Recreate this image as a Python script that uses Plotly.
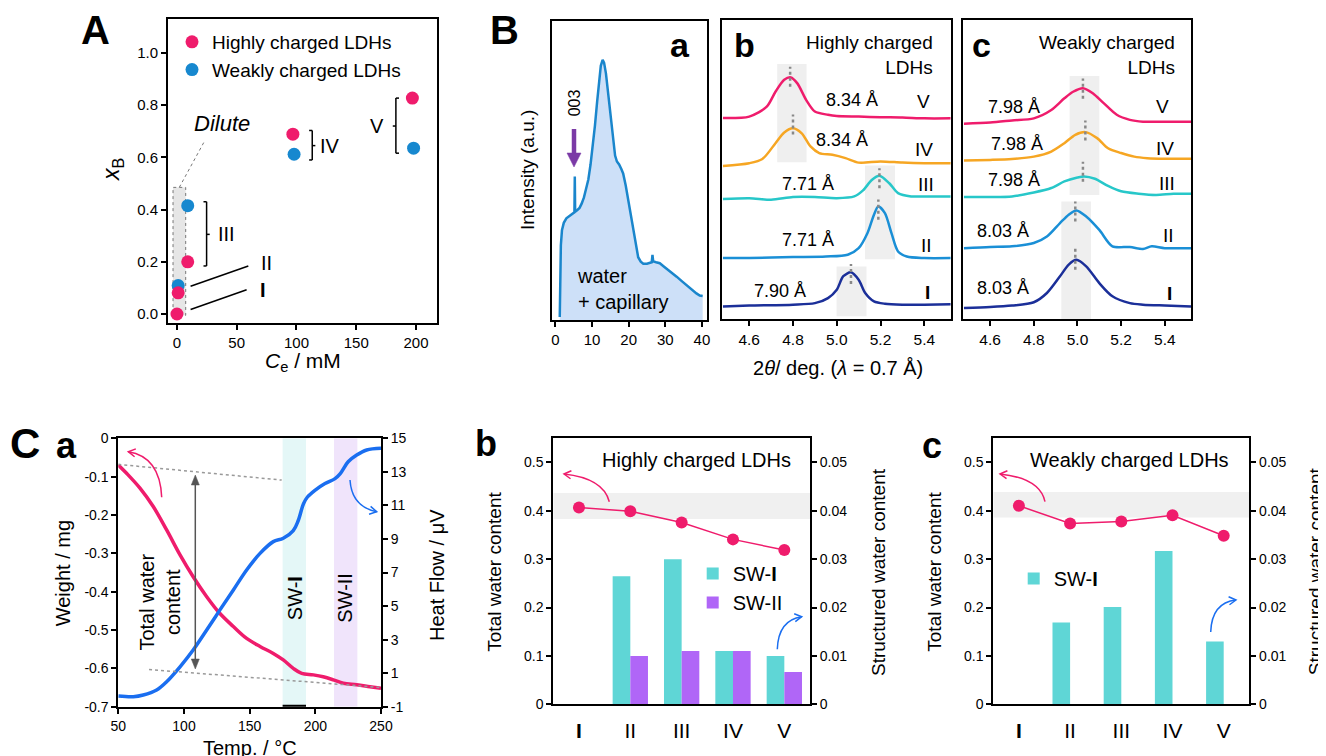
import plotly.graph_objects as go

# reference canvas and page offset (the page body has an 8 px margin)
W, H = 1326, 756
OFF = 8
FW, FH = W - OFF, H - OFF
FONT = "Liberation Sans, Arial, Helvetica, sans-serif"

# ---------------- data ----------------
# Panel A : x_B vs C_e
A_high_ce = [0, 1, 9, 97, 197]
A_high_xb = [0.0, 0.081, 0.200, 0.689, 0.827]
A_weak_ce = [1, 9, 98, 198]
A_weak_xb = [0.109, 0.415, 0.612, 0.635]
A_xticks = [0, 50, 100, 150, 200]
A_yticks = [0.0, 0.2, 0.4, 0.6, 0.8, 1.0]

# Panel B-a : wide-angle pattern (water + capillary)
Ba_2theta = [1.2, 1.35, 1.5, 1.8, 2.3, 3.0, 4.0, 4.8, 5.2, 5.3, 5.4, 6.0, 6.6, 7.2, 7.8, 8.4,
             9.0, 9.6, 10.2, 10.8, 11.4, 11.9, 12.4, 12.9, 13.3, 13.8, 14.3, 14.9, 15.6, 16.3,
             16.8, 17.4, 18.0, 18.5, 19.2, 19.9, 20.6, 21.3, 22.0, 22.6, 23.3, 24.0, 25.0,
             26.3, 26.5, 26.7, 27.5, 28.5, 29.5, 30.4, 31.8, 33.1, 34.5, 35.8, 37.2, 38.5,
             39.4, 40.2]
Ba_int = [0.01, 0.15, 0.25, 0.30, 0.325, 0.34, 0.348, 0.355, 0.36, 0.48, 0.362, 0.368, 0.375,
          0.39, 0.41, 0.44, 0.47, 0.52, 0.58, 0.65, 0.73, 0.80, 0.85, 0.87, 0.86, 0.825, 0.77,
          0.70, 0.62, 0.55, 0.53, 0.52, 0.505, 0.49, 0.45, 0.40, 0.34, 0.29, 0.245, 0.21,
          0.195, 0.188, 0.188, 0.193, 0.218, 0.196, 0.193, 0.19, 0.18, 0.172, 0.158, 0.145,
          0.13, 0.117, 0.10, 0.089, 0.082, 0.08]
Ba_xticks = [0, 10, 20, 30, 40]

# Panel B-b : highly charged LDHs (normalised, stacked)
Bb_V_x = [4.48, 4.6, 4.68, 4.72, 4.76, 4.79, 4.82, 4.86, 4.9, 4.96, 5.0, 5.1, 5.2, 5.3, 5.4, 5.52]
Bb_V_y = [0.672, 0.677, 0.71, 0.76, 0.80, 0.808, 0.788, 0.733, 0.694, 0.683, 0.679, 0.677, 0.675, 0.674, 0.671, 0.671]
Bb_IV_x = [4.48, 4.6, 4.66, 4.72, 4.76, 4.8, 4.84, 4.88, 4.92, 4.98, 5.04, 5.1, 5.2, 5.3, 5.4, 5.52]
Bb_IV_y = [0.512, 0.521, 0.535, 0.588, 0.624, 0.638, 0.621, 0.577, 0.555, 0.549, 0.538, 0.523, 0.527, 0.523, 0.521, 0.521]
Bb_III_x = [4.48, 4.6, 4.7, 4.8, 4.9, 5.0, 5.08, 5.12, 5.16, 5.195, 5.24, 5.28, 5.34, 5.4, 5.52]
Bb_III_y = [0.401, 0.404, 0.399, 0.408, 0.408, 0.404, 0.41, 0.43, 0.465, 0.479, 0.454, 0.421, 0.41, 0.41, 0.41]
Bb_II_x = [4.48, 4.6, 4.8, 4.95, 5.05, 5.1, 5.14, 5.17, 5.19, 5.22, 5.25, 5.28, 5.32, 5.4, 5.52]
Bb_II_y = [0.204, 0.204, 0.207, 0.209, 0.215, 0.237, 0.287, 0.349, 0.376, 0.354, 0.287, 0.226, 0.209, 0.204, 0.204]
Bb_I_x = [4.48, 4.6, 4.8, 4.9, 4.96, 5.0, 5.03, 5.065, 5.1, 5.13, 5.17, 5.22, 5.3, 5.4, 5.52]
Bb_I_y = [0.042, 0.045, 0.048, 0.053, 0.070, 0.098, 0.143, 0.156, 0.131, 0.087, 0.059, 0.051, 0.048, 0.048, 0.049]

# Panel B-c : weakly charged LDHs
Bc_V_x = [4.48, 4.6, 4.7, 4.8, 4.88, 4.94, 4.98, 5.025, 5.07, 5.12, 5.18, 5.24, 5.3, 5.4, 5.52]
Bc_V_y = [0.653, 0.657, 0.664, 0.671, 0.699, 0.738, 0.760, 0.772, 0.755, 0.722, 0.683, 0.666, 0.66, 0.66, 0.66]
Bc_IV_x = [4.48, 4.6, 4.7, 4.8, 4.88, 4.94, 4.99, 5.036, 5.09, 5.14, 5.2, 5.26, 5.32, 5.4, 5.52]
Bc_IV_y = [0.53, 0.532, 0.535, 0.543, 0.56, 0.588, 0.616, 0.625, 0.605, 0.571, 0.555, 0.543, 0.538, 0.536, 0.536]
Bc_III_x = [4.48, 4.6, 4.7, 4.8, 4.88, 4.94, 5.0, 5.03, 5.08, 5.14, 5.2, 5.28, 5.36, 5.44, 5.52]
Bc_III_y = [0.408, 0.408, 0.41, 0.423, 0.438, 0.46, 0.473, 0.477, 0.469, 0.445, 0.427, 0.419, 0.415, 0.419, 0.419]
Bc_II_x = [4.48, 4.6, 4.7, 4.8, 4.86, 4.92, 4.96, 4.995, 5.04, 5.1, 5.16, 5.24, 5.3, 5.34, 5.4, 5.52]
Bc_II_y = [0.237, 0.241, 0.243, 0.254, 0.276, 0.321, 0.349, 0.363, 0.343, 0.298, 0.243, 0.241, 0.234, 0.243, 0.237, 0.237]
Bc_I_x = [4.48, 4.6, 4.7, 4.8, 4.86, 4.92, 4.96, 4.995, 5.04, 5.1, 5.16, 5.24, 5.3, 5.4, 5.52]
Bc_I_y = [0.037, 0.04, 0.045, 0.056, 0.087, 0.143, 0.182, 0.198, 0.176, 0.12, 0.076, 0.053, 0.048, 0.045, 0.042]
B_xticks = [4.6, 4.8, 5.0, 5.2, 5.4]

# Panel C-a : TG / DTA
Ca_T_w = [50, 56.3, 66.5, 76.6, 86.8, 97, 107, 117.3, 127.4, 137.6, 147.7, 157.9, 168, 175.6,
          183.2, 189.6, 198.5, 206, 213.7, 221.3, 231.5, 241.6, 250]
Ca_weight = [-0.0696, -0.0913, -0.130, -0.178, -0.239, -0.304, -0.361, -0.413, -0.457, -0.491,
             -0.522, -0.543, -0.561, -0.578, -0.600, -0.613, -0.617, -0.622, -0.630, -0.639,
             -0.643, -0.648, -0.652]
Ca_T_h = [50, 61.4, 69, 79.2, 86.8, 97, 107, 117.3, 127.4, 137.6, 147.7, 157.9, 168, 175.6,
          183.2, 187, 191, 194, 199.7, 207.4, 215, 219, 225, 231.5, 239.1, 250]
Ca_heat = [-0.36, -0.4, -0.30, 0.0, 0.49, 1.38, 2.38, 3.57, 4.77, 5.96, 7.15, 8.14, 8.84, 9.04,
           9.5, 10.1, 11.1, 11.5, 11.9, 12.3, 12.6, 12.9, 13.6, 14.0, 14.3, 14.4]
Ca_xticks = [50, 100, 150, 200, 250]
Ca_wticks = [0, -0.1, -0.2, -0.3, -0.4, -0.5, -0.6, -0.7]
Ca_wticktext = ["0", "-0.1", "-0.2", "-0.3", "-0.4", "-0.5", "-0.6", "-0.7"]
Ca_hticks = [-1, 1, 3, 5, 7, 9, 11, 13, 15]
Ca_hticktext = ["-1", "1", "3", "5", "7", "9", "11", "13", "15"]

# Panels C-b / C-c : water contents
C_samples = ["<b>I</b>", "II", "III", "IV", "V"]
Cb_total = [0.407, 0.399, 0.376, 0.341, 0.319]
Cb_sw1 = [0, 0.0265, 0.030, 0.011, 0.010]
Cb_sw2 = [0, 0.010, 0.011, 0.011, 0.0067]
Cc_total = [0.4105, 0.374, 0.378, 0.391, 0.3485]
Cc_sw1 = [0, 0.0169, 0.0201, 0.0317, 0.0130]
C_lticks = [0, 0.1, 0.2, 0.3, 0.4, 0.5]
C_lticktext = ["0", "0.1", "0.2", "0.3", "0.4", "0.5"]
C_rticks = [0, 0.01, 0.02, 0.03, 0.04, 0.05]
C_rticktext = ["0", "0.01", "0.02", "0.03", "0.04", "0.05"]

# ---------------- styling ----------------
PINK = "#ef1c6c"
BLUE_A = "#1788cf"
ORANGE = "#f6a623"
CYAN = "#27c7c9"
BLUE_B = "#1a8fd6"
NAVY = "#1b2f99"
HFBLUE = "#1a6ef0"
SW1 = "#5fd6d6"
SW2 = "#b066f7"
PURPLE = "#7b3aa6"


def PXx(x):
    return (x - OFF) / FW


def PXy(y):
    return 1 - (y - OFF) / FH


def xd(a, b):
    return [PXx(a), PXx(b)]


def yd(top, bottom):
    return [PXy(bottom), PXy(top)]


def frame(**kw):
    d = dict(showline=True, linecolor="black", linewidth=2, mirror=True, ticks="outside",
             ticklen=5, tickwidth=1.5, tickcolor="black", showgrid=False, zeroline=False,
             automargin=False, tickfont=dict(size=15, color="black", family=FONT))
    d.update(kw)
    return d


fig = go.Figure()

# ---- A ----
fig.add_trace(go.Scatter(x=A_weak_ce, y=A_weak_xb, mode="markers", name="Weakly charged LDHs",
                         marker=dict(size=13, color=BLUE_A), xaxis="x", yaxis="y", legendrank=2))
fig.add_trace(go.Scatter(x=A_high_ce, y=A_high_xb, mode="markers", name="Highly charged LDHs",
                         marker=dict(size=13, color=PINK), xaxis="x", yaxis="y", legendrank=1))

# ---- B-a ----
fig.add_trace(go.Scatter(x=Ba_2theta, y=Ba_int, mode="lines", fill="tozeroy", fillcolor="#cde0f8",
                         line=dict(color="#1a86cc", width=2.5), xaxis="x2", yaxis="y2", showlegend=False))

# ---- B-b / B-c ----
for xs, ys, c in [(Bb_V_x, Bb_V_y, PINK), (Bb_IV_x, Bb_IV_y, ORANGE), (Bb_III_x, Bb_III_y, CYAN),
                  (Bb_II_x, Bb_II_y, BLUE_B), (Bb_I_x, Bb_I_y, NAVY)]:
    fig.add_trace(go.Scatter(x=xs, y=ys, mode="lines", line=dict(color=c, width=2.5, shape="spline", smoothing=0.8),
                             xaxis="x3", yaxis="y3", showlegend=False))
for xs, ys, c in [(Bc_V_x, Bc_V_y, PINK), (Bc_IV_x, Bc_IV_y, ORANGE), (Bc_III_x, Bc_III_y, CYAN),
                  (Bc_II_x, Bc_II_y, BLUE_B), (Bc_I_x, Bc_I_y, NAVY)]:
    fig.add_trace(go.Scatter(x=xs, y=ys, mode="lines", line=dict(color=c, width=2.5, shape="spline", smoothing=0.8),
                             xaxis="x4", yaxis="y4", showlegend=False))

# ---- C-a ----
fig.add_trace(go.Scatter(x=Ca_T_w, y=Ca_weight, mode="lines", line=dict(color=PINK, width=3.5, shape="spline"),
                         xaxis="x5", yaxis="y5", showlegend=False))
fig.add_trace(go.Scatter(x=Ca_T_h, y=Ca_heat, mode="lines", line=dict(color=HFBLUE, width=3.5, shape="spline"),
                         xaxis="x5", yaxis="y6", showlegend=False))

# ---- C-b ----
idx = list(range(len(C_samples)))
fig.add_trace(go.Bar(x=idx, y=Cb_sw1, width=0.344, offset=-0.344, marker=dict(color=SW1, line=dict(width=0)),
                     name="SW-<b>I</b>", xaxis="x6", yaxis="y8", legend="legend2"))
fig.add_trace(go.Bar(x=idx, y=Cb_sw2, width=0.344, offset=0, marker=dict(color=SW2, line=dict(width=0)),
                     name="SW-II", xaxis="x6", yaxis="y8", legend="legend2"))
fig.add_trace(go.Scatter(x=idx, y=Cb_total, mode="lines+markers", line=dict(color=PINK, width=1.5),
                         marker=dict(size=12, color=PINK), xaxis="x6", yaxis="y7", showlegend=False))
# ---- C-c ----
fig.add_trace(go.Bar(x=idx, y=Cc_sw1, width=0.344, offset=-0.344, marker=dict(color=SW1, line=dict(width=0)),
                     name="SW-<b>I</b>", xaxis="x7", yaxis="y10", legend="legend3"))
fig.add_trace(go.Scatter(x=idx, y=Cc_total, mode="lines+markers", line=dict(color=PINK, width=1.5),
                         marker=dict(size=12, color=PINK), xaxis="x7", yaxis="y9", showlegend=False))

# ---------------- axes ----------------
F14 = dict(size=14, color="black", family=FONT)
lay = dict(
    xaxis=frame(domain=xd(168, 437), range=[-7.5, 217.6], anchor="y", tickvals=A_xticks),
    yaxis=frame(domain=yd(19, 323), range=[-0.0345, 1.13], anchor="x", tickvals=A_yticks, tickformat=".1f"),
    xaxis2=frame(domain=xd(551.7, 706.7), range=[-1.0, 41.3], anchor="y2", tickvals=Ba_xticks),
    yaxis2=frame(domain=yd(21, 320), range=[0, 1], anchor="x2", ticks="", showticklabels=False),
    xaxis3=frame(domain=xd(722.3, 951), range=[4.477, 5.522], anchor="y3", tickvals=B_xticks, tickformat=".1f",
                 tickfont=dict(size=15.5, color="black", family=FONT)),
    yaxis3=frame(domain=yd(20, 319), range=[0, 1], anchor="x3", ticks="", showticklabels=False),
    xaxis4=frame(domain=xd(963.3, 1191), range=[4.477, 5.52], anchor="y4", tickvals=B_xticks, tickformat=".1f",
                 tickfont=dict(size=15.5, color="black", family=FONT)),
    yaxis4=frame(domain=yd(20, 319), range=[0, 1], anchor="x4", ticks="", showticklabels=False),
    xaxis5=frame(domain=xd(118.3, 381), range=[50, 250], anchor="y5", tickvals=Ca_xticks, tickfont=F14),
    yaxis5=frame(domain=yd(438.3, 706.7), range=[-0.7, 0], anchor="x5", tickvals=Ca_wticks,
                 ticktext=Ca_wticktext, tickfont=F14),
    yaxis6=frame(range=[-1, 15], overlaying="y5", side="right", anchor="x5", tickvals=Ca_hticks,
                 ticktext=Ca_hticktext, mirror=False, tickfont=F14),
    xaxis6=frame(domain=xd(553.3, 810), range=[-0.5, 4.5], anchor="y7", tickvals=idx, ticktext=C_samples,
                 ticks="", ticklabelstandoff=6, tickfont=dict(size=21, color="black", family=FONT)),
    yaxis7=frame(domain=yd(438.3, 704.3), range=[0, 0.55], anchor="x6", tickvals=C_lticks,
                 ticktext=C_lticktext, tickfont=F14),
    yaxis8=frame(range=[0, 0.055], overlaying="y7", side="right", anchor="x6", tickvals=C_rticks,
                 ticktext=C_rticktext, mirror=False, tickfont=F14),
    xaxis7=frame(domain=xd(993.3, 1249.3), range=[-0.5, 4.5], anchor="y9", tickvals=idx, ticktext=C_samples,
                 ticks="", ticklabelstandoff=6, tickfont=dict(size=21, color="black", family=FONT)),
    yaxis9=frame(domain=yd(438.3, 704.3), range=[0, 0.55], anchor="x7", tickvals=C_lticks,
                 ticktext=C_lticktext, tickfont=F14),
    yaxis10=frame(range=[0, 0.055], overlaying="y9", side="right", anchor="x7", tickvals=C_rticks,
                  ticktext=C_rticktext, mirror=False, tickfont=F14),
)

shapes = []
ann = []


def txt(x, y, s, size=18, xref="paper", yref="paper", **kw):
    if xref == "paper":
        x = PXx(x)
    if yref == "paper":
        y = PXy(y)
    d = dict(x=x, y=y, xref=xref, yref=yref, text=s, showarrow=False, xanchor="center",
             yanchor="middle", font=dict(size=size, color="black", family=FONT))
    d.update(kw)
    ann.append(d)


def seg(x0, y0, x1, y1, xr, yr, color="black", width=1.5, dash="solid"):
    shapes.append(dict(type="line", x0=x0, y0=y0, x1=x1, y1=y1, xref=xr, yref=yr,
                       line=dict(color=color, width=width, dash=dash)))


def rect(x0, x1, y0, y1, xr, yr, fill, line=None):
    shapes.append(dict(type="rect", x0=x0, x1=x1, y0=y0, y1=y1, xref=xr, yref=yr, layer="below",
                       fillcolor=fill, line=line or dict(width=0)))


def head_px(tip, direction, length, half, color, filled=False, width=1.5):
    """Arrow head drawn as a path in page pixels, tip at `tip`, pointing along `direction`."""
    (tx, ty), (dx, dy) = tip, direction
    n = (dx * dx + dy * dy) ** 0.5
    ux, uy = dx / n, dy / n
    px_, py_ = -uy, ux
    ax, ay = tx - ux * length + px_ * half, ty - uy * length + py_ * half
    bx, by = tx - ux * length - px_ * half, ty - uy * length - py_ * half
    if filled:
        path = f"M {PXx(ax)},{PXy(ay)} L {PXx(tx)},{PXy(ty)} L {PXx(bx)},{PXy(by)} Z"
        shapes.append(dict(type="path", path=path, xref="paper", yref="paper",
                           fillcolor=color, line=dict(color=color, width=0.5)))
    else:
        path = f"M {PXx(ax)},{PXy(ay)} L {PXx(tx)},{PXy(ty)} L {PXx(bx)},{PXy(by)}"
        shapes.append(dict(type="path", path=path, xref="paper", yref="paper",
                           line=dict(color=color, width=width)))


def curved_arrow(p0, pc, p1, color):
    (x0, y0), (cx, cy), (x1, y1) = p0, pc, p1
    path = f"M {PXx(x0)},{PXy(y0)} Q {PXx(cx)},{PXy(cy)} {PXx(x1)},{PXy(y1)}"
    shapes.append(dict(type="path", path=path, xref="paper", yref="paper",
                       line=dict(color=color, width=1.5)))
    head_px((x1, y1), (x1 - cx, y1 - cy), 7, 4, color)


# ---- A decorations ----
rect(-3.3, 7.3, -0.005, 0.485, "x", "y", "#e6e6e6", dict(color="#777", width=1, dash="dot"))
seg(1.95, 0.485, 23.4, 0.665, "x", "y", "#777", 1, "dot")
txt(37.7, 0.731, "<i>Dilute</i>", 22, "x", "y")
seg(24.8, 0.184, 24.8, 0.43, "x", "y")
seg(22.2, 0.43, 24.8, 0.43, "x", "y")
seg(22.2, 0.184, 24.8, 0.184, "x", "y")
seg(24.8, 0.305, 27.4, 0.305, "x", "y")
txt(41.6, 0.305, "III", 20, "x", "y")
seg(11.4, 0.106, 59.7, 0.184, "x", "y")
txt(75, 0.197, "II", 20, "x", "y")
seg(11.4, 0.017, 58.3, 0.093, "x", "y")
txt(72, 0.093, "<b>I</b>", 20, "x", "y")
seg(113.2, 0.590, 113.2, 0.703, "x", "y")
seg(110.6, 0.703, 113.2, 0.703, "x", "y")
seg(110.6, 0.590, 113.2, 0.590, "x", "y")
seg(113.2, 0.645, 115.8, 0.645, "x", "y")
txt(128, 0.645, "IV", 20, "x", "y")
seg(183.2, 0.616, 183.2, 0.827, "x", "y")
seg(183.2, 0.827, 185.8, 0.827, "x", "y")
seg(183.2, 0.616, 185.8, 0.616, "x", "y")
seg(180.6, 0.72, 183.2, 0.72, "x", "y")
txt(167, 0.72, "V", 20, "x", "y")
txt(303.3, 362, "<i>C</i><sub>e</sub> / mM", 21)
txt(113, 170, "<i>x</i><sub>B</sub>", 23, textangle=-90)
txt(95, 30, "<b>A</b>", 40)

# ---- B-a decorations ----
# purple "003" arrow (page pixels: x 574, shaft 129-153, head 153-167)
seg(PXx(574), PXy(129), PXx(574), PXy(155), "paper", "paper", PURPLE, 4.5)
head_px((574, 167), (0, 1), 14, 7, PURPLE, filled=True)
txt(5.1, 0.725, "003", 16, "x2", "y2", textangle=-90)
txt(680, 45, "<b>a</b>", 34)
txt(575, 289, "water<br>+ capillary", 20, xanchor="left", align="left")
txt(528, 170, "Intensity (a.u.)", 19, textangle=-90)
txt(504, 30, "<b>B</b>", 40)

# ---- B-b decorations ----
rect(4.728, 4.862, 0.524, 0.853, "x3", "y3", "#efefef")
rect(5.129, 5.266, 0.200, 0.513, "x3", "y3", "#efefef")
rect(4.999, 5.136, 0.009, 0.176, "x3", "y3", "#efefef")
for xv, y0, y1 in [(4.787, 0.777, 0.844), (4.800, 0.617, 0.684), (5.195, 0.437, 0.504),
                   (5.190, 0.332, 0.400), (5.065, 0.117, 0.184)]:
    seg(xv, y0, xv, y1, "x3", "y3", "#888", 2.5, "dot")
for xv, yv, s in [(5.068, 0.733, "8.34 Å"), (5.025, 0.599, "8.34 Å"), (4.867, 0.451, "7.71 Å"),
                  (4.870, 0.263, "7.71 Å"), (4.740, 0.092, "7.90 Å")]:
    txt(xv, yv, s, 18, "x3", "y3")
for xv, yv, s in [(5.395, 0.727, "V"), (5.40, 0.566, "IV"), (5.406, 0.451, "III"),
                  (5.41, 0.245, "II"), (5.414, 0.087, "<b>I</b>")]:
    txt(xv, yv, s, 19, "x3", "y3")
txt(744.3, 45, "<b>b</b>", 34)
txt(935, 55, "Highly charged<br>LDHs", 19, xanchor="right", align="right")

# ---- B-c decorations ----
rect(4.964, 5.100, 0.415, 0.813, "x4", "y4", "#efefef")
rect(4.926, 5.062, 0.0, 0.393, "x4", "y4", "#efefef")
for xv, y0, y1 in [(5.025, 0.737, 0.804), (5.036, 0.597, 0.664), (5.025, 0.459, 0.526),
                   (4.990, 0.326, 0.393), (4.990, 0.165, 0.237)]:
    seg(xv, y0, xv, y1, "x4", "y4", "#888", 2.5, "dot")
for xv, yv, s in [(4.707, 0.71, "7.98 Å"), (4.725, 0.586, "7.98 Å"), (4.707, 0.465, "7.98 Å"),
                  (4.66, 0.295, "8.03 Å"), (4.66, 0.104, "8.03 Å")]:
    txt(xv, yv, s, 18, "x4", "y4")
for xv, yv, s in [(5.388, 0.71, "V"), (5.40, 0.571, "IV"), (5.41, 0.452, "III"),
                  (5.418, 0.28, "II"), (5.42, 0.085, "<b>I</b>")]:
    txt(xv, yv, s, 19, "x4", "y4")
txt(981.7, 45, "<b>c</b>", 34)
txt(1176.7, 55, "Weakly charged<br>LDHs", 19, xanchor="right", align="right")
txt(838, 368, "2<i>θ</i>/ deg. (<i>λ</i> = 0.7 Å)", 20)

# ---- C-a decorations ----
rect(175.1, 192.9, -0.7, 0, "x5", "y5", "#e4f7f7")
rect(214.2, 232.0, -0.7, 0, "x5", "y5", "#f0e4fb")
seg(175.1, -0.7, 192.9, -0.7, "x5", "y5", "black", 4)
seg(50, -0.068, 174.4, -0.109, "x5", "y5", "#999", 1.5, "dot")
seg(73.4, -0.603, 250, -0.650, "x5", "y5", "#999", 1.5, "dot")
# double-headed arrow (page pixels x 195.3, y 475 -> 669)
seg(PXx(195.3), PXy(482), PXx(195.3), PXy(662), "paper", "paper", "#555", 1.5)
head_px((195.3, 475), (0, -1), 10, 4, "#555", filled=True)
head_px((195.3, 669), (0, 1), 10, 4, "#555", filled=True)
txt(184.5, -0.417, "SW-<b>I</b>", 20, "x5", "y5", textangle=-90)
txt(223, -0.417, "SW-II", 20, "x5", "y5", textangle=-90)
txt(81.7, -0.426, "Total water<br>content", 20, "x5", "y5", textangle=-90)
curved_arrow((161.7, 497.3), (160, 456.7), (128.3, 451.7), PINK)
curved_arrow((350, 480), (351.7, 506.7), (376.7, 511.7), HFBLUE)
txt(63.3, 573, "Weight / mg", 20, textangle=-90)
txt(437, 575, "Heat Flow / μV", 20, textangle=-90)
txt(250, 748.3, "Temp. / °C", 20)
txt(25, 443, "<b>C</b>", 42)
txt(66.7, 445, "<b>a</b>", 36)

# ---- C-b decorations ----
rect(-0.5, 4.5, 0.383, 0.437, "x6", "y7", "#f0f0f0")
txt(696.7, 460, "Highly charged LDHs", 20)
curved_arrow((609.3, 501.7), (603.3, 478.3), (564, 474), PINK)
curved_arrow((777.3, 649.3), (778.3, 620), (801.7, 616.7), HFBLUE)
txt(495, 571.7, "Total water content", 19, textangle=-90)
txt(878.3, 571.7, "Structured water content", 19, textangle=-90)
txt(486, 443.3, "<b>b</b>", 36)

# ---- C-c decorations ----
rect(-0.5, 4.5, 0.386, 0.439, "x7", "y9", "#f0f0f0")
txt(1129.3, 460, "Weakly charged LDHs", 20)
curved_arrow((1045, 501.7), (1040, 478.3), (1000, 474), PINK)
curved_arrow((1210.7, 632), (1211.7, 602.7), (1236, 600), HFBLUE)
txt(935, 571.7, "Total water content", 19, textangle=-90)
txt(1315.5, 571.7, "Structured water content", 19, textangle=-90)
txt(931.7, 445, "<b>c</b>", 36)

fig.update_layout(
    width=FW, height=FH, margin=dict(l=0, r=0, t=0, b=0, autoexpand=False),
    paper_bgcolor="white", plot_bgcolor="white",
    font=dict(family=FONT, color="black"),
    shapes=shapes, annotations=ann, barmode="overlay",
    legend=dict(x=PXx(172), y=PXy(23), xanchor="left", yanchor="top", bgcolor="rgba(0,0,0,0)",
                font=dict(size=19, family=FONT), itemwidth=30, tracegroupgap=0),
    legend2=dict(x=PXx(692.7), y=PXy(554), xanchor="left", yanchor="top", bgcolor="rgba(0,0,0,0)",
                 font=dict(size=20, family=FONT), itemwidth=30, tracegroupgap=0),
    legend3=dict(x=PXx(1013.7), y=PXy(559), xanchor="left", yanchor="top", bgcolor="rgba(0,0,0,0)",
                 font=dict(size=20, family=FONT), itemwidth=30, tracegroupgap=0),
    **lay,
)

fig.write_html("out.html")
